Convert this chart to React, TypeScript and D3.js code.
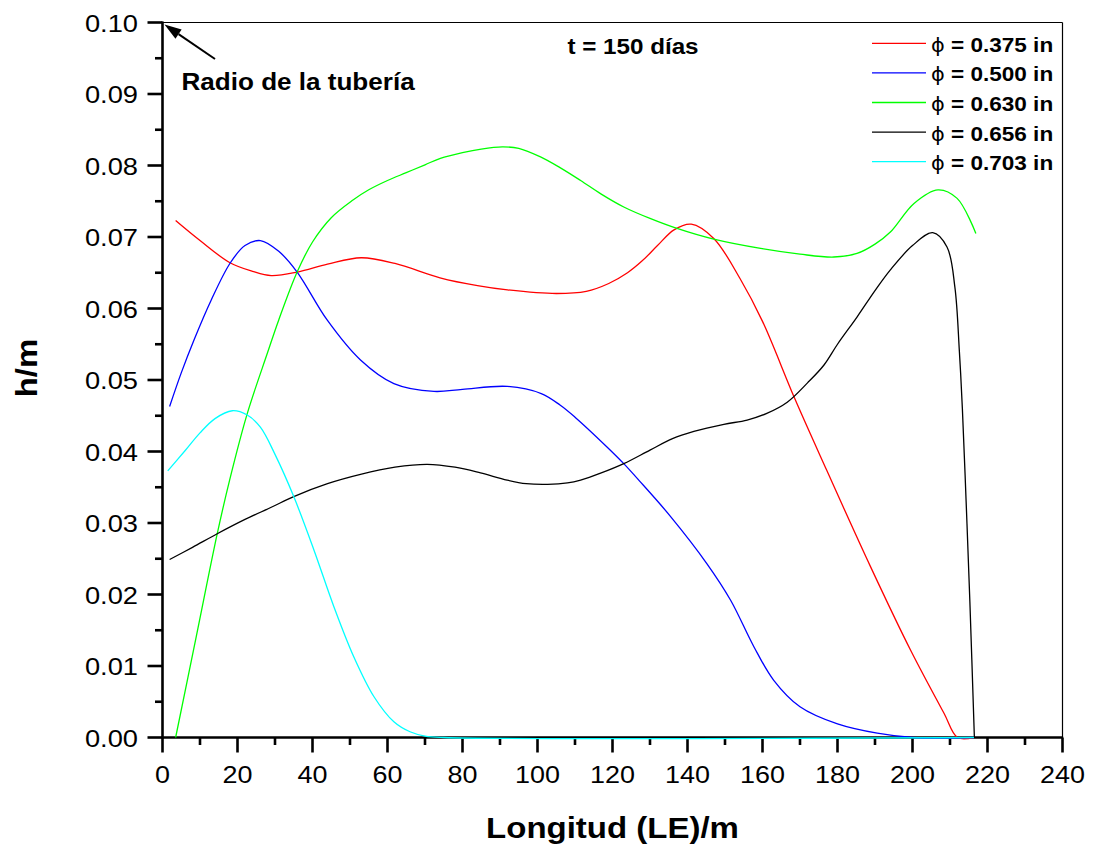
import React from 'react';
import * as d3 from 'd3';

// ---------- data ----------
const xTickValues = [0, 20, 40, 60, 80, 100, 120, 140, 160, 180, 200, 220, 240];
const xMinorValues = [10, 30, 50, 70, 90, 110, 130, 150, 170, 190, 210, 230];
const yTickValues = [0, 0.01, 0.02, 0.03, 0.04, 0.05, 0.06, 0.07, 0.08, 0.09, 0.1];
const yMinorValues = [0.005, 0.015, 0.025, 0.035, 0.045, 0.055, 0.065, 0.075, 0.085, 0.095];

const seriesLabels = ['0.375 in', '0.500 in', '0.630 in', '0.656 in', '0.703 in'];
const seriesColors = ['#ff0000', '#0000ff', '#00ff00', '#000000', '#00ffff'];

const redX = [3.5, 10, 18, 24, 29, 36, 44, 53, 62, 74, 84, 92, 105, 113, 119, 124, 128, 132, 136.4, 141, 147, 154, 160, 168.6, 177.1, 188.8, 199.5, 208.4, 212, 216.4];
const redY = [0.0723, 0.0695, 0.0664, 0.0652, 0.0646, 0.0651, 0.0662, 0.0671, 0.0663, 0.0643, 0.0632, 0.0626, 0.0621, 0.0624, 0.0635, 0.065, 0.0667, 0.0688, 0.071, 0.0718, 0.0698, 0.0642, 0.0582, 0.0474, 0.0374, 0.0239, 0.0122, 0.0034, 0, 0];

const blueX = [1.9, 5, 8.4, 13, 18.1, 22, 26.1, 31, 35.9, 43.9, 52.8, 61.7, 72.4, 80, 92, 101, 106, 110, 118.6, 123, 127, 135.5, 145.2, 151.5, 157.7, 163, 170, 180, 190.6, 200, 216.4];
const blueY = [0.0463, 0.051, 0.0556, 0.0612, 0.0664, 0.0688, 0.0695, 0.068, 0.0651, 0.0584, 0.0528, 0.0495, 0.0484, 0.0487, 0.0491, 0.0481, 0.0465, 0.0448, 0.0406, 0.0383, 0.036, 0.0309, 0.0243, 0.0192, 0.0127, 0.008, 0.0043, 0.0019, 0.0006, 0, 0];

const greenX = [3.5, 9, 14.6, 17.9, 22.6, 28, 31, 35.9, 40, 45, 50.6, 55, 60, 65, 70, 74.1, 80, 85, 90.6, 95, 100.8, 106, 111.5, 117, 123, 130, 137.2, 147, 159.5, 170, 179, 185.2, 190, 194.1, 200.4, 206.8, 211.9, 216.9];
const greenY = [0, 0.0141, 0.0285, 0.036, 0.0453, 0.0538, 0.0584, 0.0651, 0.0693, 0.0727, 0.0751, 0.0766, 0.0779, 0.079, 0.0801, 0.081, 0.0818, 0.0823, 0.0826, 0.0824, 0.0812, 0.0797, 0.0779, 0.076, 0.0742, 0.0726, 0.0712, 0.0697, 0.0684, 0.0676, 0.0672, 0.0677, 0.069, 0.0707, 0.0747, 0.0766, 0.0754, 0.0705];

const blackX = [1.9, 8, 14.6, 22, 29, 35, 44, 52.8, 62, 70.6, 78, 84.8, 91.9, 97, 102.7, 108, 111.5, 117, 123, 130, 136, 141.7, 149.7, 155.9, 161, 166.6, 172, 176.4, 180, 185.2, 190, 194.1, 200, 205.4, 209.2, 211.3, 212.5, 213.3, 214.3, 215.3, 216.5];
const blackY = [0.0249, 0.0266, 0.0285, 0.0305, 0.0322, 0.0337, 0.0355, 0.0368, 0.0378, 0.0382, 0.0378, 0.037, 0.036, 0.0355, 0.0354, 0.0356, 0.036, 0.037, 0.0383, 0.0402, 0.0418, 0.0428, 0.0438, 0.0444, 0.0453, 0.0469, 0.0496, 0.0521, 0.055, 0.0588, 0.0625, 0.0654, 0.0688, 0.0706, 0.0686, 0.063, 0.054, 0.046, 0.033, 0.019, 0];

const cyanX = [1.4, 6, 10, 14, 18.6, 22.6, 26.1, 30, 35, 40.4, 45.7, 51, 56.4, 61.7, 66, 70, 75, 216.4];
const cyanY = [0.0373, 0.0401, 0.0426, 0.0446, 0.0457, 0.0451, 0.0434, 0.0396, 0.0337, 0.0262, 0.0183, 0.0113, 0.0057, 0.0022, 0.0008, 0.0002, 0, 0];

const seriesX = [redX, blueX, greenX, blackX, cyanX];
const seriesY = [redY, blueY, greenY, blackY, cyanY];

const timeLabel = 't = 150 días';
const annotationLabel = 'Radio de la tubería';
const xTitle = 'Longitud (LE)/m';
const yTitle = 'h/m';

// ---------- layout ----------
const W = 1094;
const H = 852;
const left = 162.5;
const right = 1062.5;
const top = 22.5;
const bottom = 737.5;
const FONT = '"Liberation Sans", Arial, Helvetica, sans-serif';
const SX = 1.1;

const x = d3.scaleLinear().domain([0, 240]).range([left, right]);
const y = d3.scaleLinear().domain([0, 0.1]).range([bottom, top]);

function T(props: {
  x: number; y: number; size: number; anchor?: string; weight?: string;
  rotate?: number; children: React.ReactNode;
}) {
  const { rotate = 0, anchor = 'start', weight = 'normal' } = props;
  return (
    <g transform={`translate(${props.x},${props.y}) rotate(${rotate}) scale(${SX},1)`}>
      <text textAnchor={anchor} fontFamily={FONT} fontSize={props.size} fontWeight={weight} fill="#000">
        {props.children}
      </text>
    </g>
  );
}

export default function App() {
  const gen = d3
    .line<[number, number]>()
    .x((d) => x(d[0]))
    .y((d) => y(Math.max(0, d[1])))
    .curve(d3.curveCatmullRom.alpha(0.5));

  const paths = seriesX.map((xs, i) => gen(xs.map((v, j) => [v, seriesY[i][j]] as [number, number])) || '');

  // arrow (annotation pointing at the pipe radius, h = 0.10 at x = 0)
  const tipX = x(0) + 2;
  const tipY = y(0.1) + 2;
  const tailX = x(14);
  const tailY = y(0.0949);
  const ang = Math.atan2(tipY - tailY, tipX - tailX);
  const hl = 17;
  const hw = 5.5;
  const bx = tipX - hl * Math.cos(ang);
  const by = tipY - hl * Math.sin(ang);
  const head = `M${tipX},${tipY} L${bx + hw * Math.sin(ang)},${by - hw * Math.cos(ang)} L${bx - hw * Math.sin(ang)},${by + hw * Math.cos(ang)} Z`;

  const legendX0 = 872;
  const legendX1 = 926;
  const legendBase = 51.7;
  const legendStep = 29.6;

  return (
    <svg width={W} height={H} style={{ position: 'absolute', left: 0, top: 0, background: '#fff' }}>
      <rect x={0} y={0} width={W} height={H} fill="#fff" />

      {/* frame */}
      <line x1={left} x2={right} y1={top} y2={top} stroke="#000" strokeWidth={1.2} />
      <line x1={right} x2={right} y1={top} y2={bottom} stroke="#000" strokeWidth={1.2} />

      {/* x axis */}
      <line x1={left - 1} x2={right + 0.6} y1={bottom} y2={bottom} stroke="#000" strokeWidth={2.6} />
      {xTickValues.map((v) => (
        <g key={'xt' + v}>
          <line x1={x(v)} x2={x(v)} y1={bottom} y2={bottom + 15} stroke="#000" strokeWidth={2.6} />
          <T x={x(v)} y={783} size={24.5} anchor="middle">{String(v)}</T>
        </g>
      ))}
      {xMinorValues.map((v) => (
        <line key={'xm' + v} x1={x(v)} x2={x(v)} y1={bottom} y2={bottom + 7.5} stroke="#000" strokeWidth={2.6} />
      ))}

      {/* y axis */}
      <line x1={left} x2={left} y1={top - 1} y2={bottom + 1} stroke="#000" strokeWidth={2.6} />
      {yTickValues.map((v) => (
        <g key={'yt' + v}>
          <line x1={left - 15} x2={left} y1={y(v)} y2={y(v)} stroke="#000" strokeWidth={2.6} />
          <T x={138} y={y(v) + 9} size={24.8} anchor="end">{v.toFixed(2)}</T>
        </g>
      ))}
      {yMinorValues.map((v) => (
        <line key={'ym' + v} x1={left - 7.5} x2={left} y1={y(v)} y2={y(v)} stroke="#000" strokeWidth={2.6} />
      ))}

      {/* series */}
      {paths.map((p, i) => (
        <path key={'s' + i} d={p} fill="none" stroke={seriesColors[i]} strokeWidth={1.3} />
      ))}

      {/* titles */}
      <T x={(left + right) / 2} y={838} size={30} anchor="middle" weight="bold">{xTitle}</T>
      <T x={37} y={368} size={30} anchor="middle" weight="bold" rotate={-90}>{yTitle}</T>
      <T x={633} y={54.3} size={22} anchor="middle" weight="bold">{timeLabel}</T>

      {/* annotation */}
      <line x1={tailX} y1={tailY} x2={bx} y2={by} stroke="#000" strokeWidth={2} />
      <path d={head} fill="#000" />
      <T x={181.5} y={90} size={23.7} weight="bold">{annotationLabel}</T>

      {/* legend */}
      {seriesLabels.map((lab, i) => {
        const base = legendBase + i * legendStep;
        return (
          <g key={'lg' + i}>
            <line x1={legendX0} x2={legendX1} y1={base - 8.4} y2={base - 8.4} stroke={seriesColors[i]} strokeWidth={1.3} />
            <T x={931} y={base} size={20.5} weight="bold">
              <tspan fontWeight="normal" fontFamily='"DejaVu Sans", sans-serif' fontSize={19}>ϕ</tspan>
              {' = ' + lab}
            </T>
          </g>
        );
      })}
    </svg>
  );
}
